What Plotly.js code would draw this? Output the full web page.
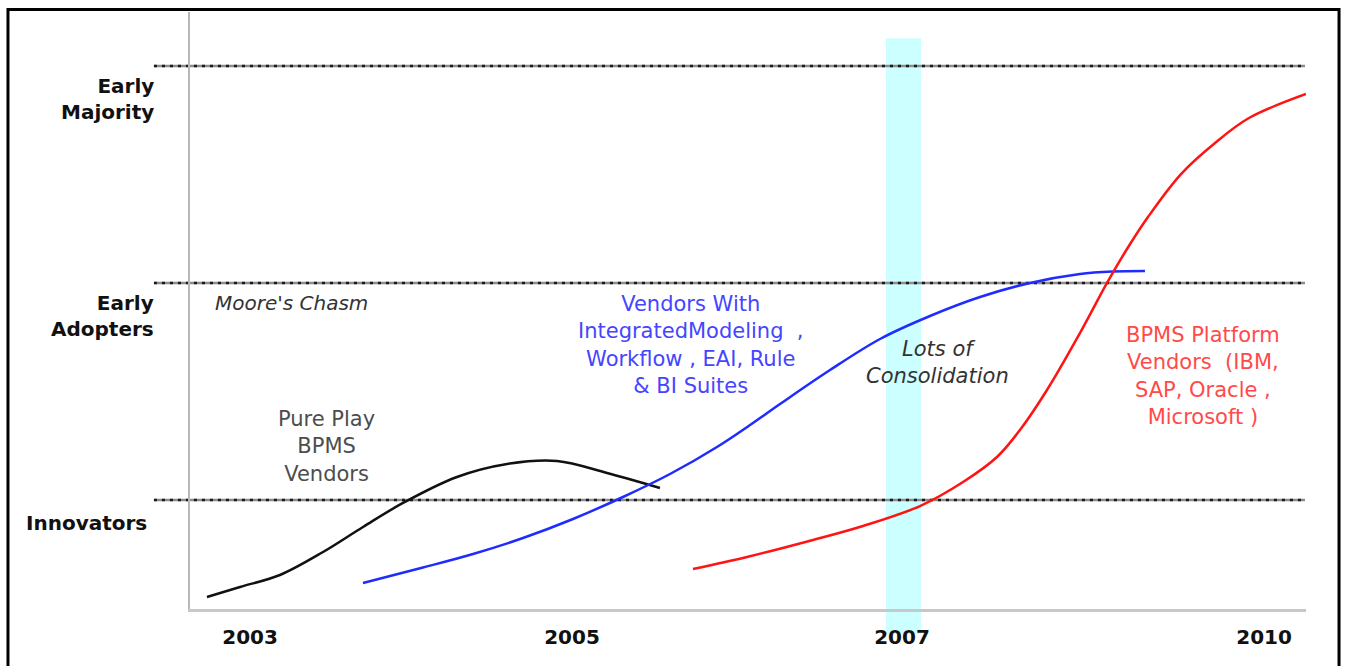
<!DOCTYPE html>
<html>
<head>
<meta charset="utf-8">
<script src="https://cdn.plot.ly/plotly-3.0.1.min.js"></script>
<style>
  html, body { margin: 0; padding: 0; background: #fff; }
  #chart { width: 1345px; height: 666px; }
</style>
</head>
<body>
<div id="chart"></div>
<script>
// ---- Data (abstract time axis 0-100, adoption level 0-100) ----
var pureX = [1.52, 4.48, 8.06, 11.92, 15.50, 19.09, 23.92, 28.41, 32.89, 37.37, 42.11];
var pureY = [2.01, 3.69, 5.70, 9.55, 13.74, 17.76, 22.11, 24.29, 24.79, 22.78, 20.27];

var suiteX = [15.50, 20.88, 25.36, 29.84, 34.32, 38.80, 43.01, 47.22, 50.18, 52.87, 57.35, 61.83, 66.31, 70.79, 75.27, 79.75, 82.71, 85.57];
var suiteY = [4.36, 6.95, 9.21, 11.89, 15.08, 18.76, 22.61, 27.14, 30.82, 34.34, 40.03, 45.23, 49.08, 52.26, 54.61, 56.11, 56.53, 56.62];

var platformX = [45.07, 49.91, 55.82, 60.30, 65.41, 69.27, 72.31, 74.37, 76.79, 79.75, 82.17, 83.96, 85.84, 88.80, 91.85, 94.89, 100.0];
var platformY = [6.70, 8.71, 11.56, 13.90, 17.25, 21.27, 25.46, 29.98, 36.68, 46.23, 54.61, 60.30, 65.66, 72.86, 78.06, 82.24, 86.26];

var tickPositions = [5.38, 34.23, 63.80, 96.24];
var tickLabels = ['2003', '2005', '2007', '2010'];

var stageLevels = [18.26, 54.61, 90.95];
var stageLabelY = [14.41, 49.08, 85.43];
var stageLabels = ['Innovators', 'Early<br>Adopters', 'Early<br>Majority'];

var consolidationBand = [62.37, 65.50];

var noteText = ["Moore's Chasm", 'Pure Play<br>BPMS<br>Vendors',
  'Vendors With<br>IntegratedModeling  ,<br>Workflow , EAI, Rule<br>&amp; BI Suites',
  'Lots of<br>Consolidation',
  'BPMS Platform<br>Vendors  (IBM,<br>SAP, Oracle ,<br>Microsoft )'];
var noteX = [2.06, 12.19, 44.89, 66.94, 90.77];
var noteY = [51.3, 27.2, 44.3, 41.3, 39.1];

var xRange = [0, 100];
var yRange = [0, 100];

function toPaperX(v) { return (v - xRange[0]) / (xRange[1] - xRange[0]); }

// ---- Traces ----
var traces = [
  { x: pureX, y: pureY, mode: 'lines', line: { color: '#111111', width: 2.5, shape: 'spline', smoothing: 1 }, hoverinfo: 'skip' },
  { x: suiteX, y: suiteY, mode: 'lines', line: { color: '#1f2bff', width: 2.5, shape: 'spline', smoothing: 1 }, hoverinfo: 'skip' },
  { x: platformX, y: platformY, mode: 'lines', line: { color: '#ff1414', width: 2.5, shape: 'spline', smoothing: 1 }, hoverinfo: 'skip' }
];

// ---- Shapes ----
var shapes = [];
shapes.push({
  type: 'rect', layer: 'below', xref: 'paper', yref: 'paper',
  x0: toPaperX(consolidationBand[0]), x1: toPaperX(consolidationBand[1]), y0: -0.042, y1: 0.956,
  fillcolor: '#ccffff', line: { width: 0 }
});
stageLevels.forEach(function (lv) {
  shapes.push({ type: 'line', layer: 'below', xref: 'paper', yref: 'y', x0: -0.0323, x1: 0.9991, y0: lv, y1: lv,
    line: { color: '#8c8c8c', width: 2.5 } });
  shapes.push({ type: 'line', layer: 'below', xref: 'paper', yref: 'y', x0: -0.0323, x1: 0.9991, y0: lv, y1: lv,
    line: { color: '#1a1a1a', width: 2.5, dash: '3px,5px' } });
});
// outer frame
shapes.push({ type: 'rect', xref: 'paper', yref: 'paper', x0: -0.1631, x1: 1.0296, y0: -0.15, y1: 1.004,
  line: { color: '#000000', width: 3 }, fillcolor: 'rgba(0,0,0,0)' });

// ---- Annotations ----
var annotations = [];
stageLabels.forEach(function (t, i) {
  annotations.push({ text: t, xref: 'paper', yref: 'y', x: i === 0 ? -0.037 : -0.0305, y: stageLabelY[i],
    xanchor: 'right', yanchor: 'middle', align: 'right', showarrow: false,
    font: { family: 'DejaVu Sans', size: 20, weight: 'bold', color: '#111111' } });
});
var noteStyles = [
  { color: '#333333', style: 'italic', xanchor: 'left', size: 20 },
  { color: '#4d4d4d', style: 'normal', xanchor: 'center', size: 21 },
  { color: '#4545ff', style: 'normal', xanchor: 'center', size: 21 },
  { color: '#333333', style: 'italic', xanchor: 'center', size: 21 },
  { color: '#ff4a4a', style: 'normal', xanchor: 'center', size: 21 }
];
noteText.forEach(function (t, i) {
  var s = noteStyles[i];
  annotations.push({ text: t, x: noteX[i], y: noteY[i], xref: 'x', yref: 'y',
    xanchor: s.xanchor, yanchor: 'middle', align: 'center', showarrow: false,
    font: { family: 'DejaVu Sans', size: s.size, style: s.style, color: s.color } });
});

var layout = {
  width: 1345, height: 666,
  margin: { l: 190, r: 39, t: 12, b: 57 },
  paper_bgcolor: '#ffffff', plot_bgcolor: 'rgba(0,0,0,0)',
  showlegend: false,
  xaxis: {
    range: xRange, showgrid: false, zeroline: false,
    showline: true, linecolor: '#c8c8c8', linewidth: 3,
    tickmode: 'array', tickvals: tickPositions, ticktext: tickLabels,
    ticks: '', ticklabelstandoff: 8,
    tickfont: { family: 'DejaVu Sans', size: 20, weight: 'bold', color: '#111111' }
  },
  yaxis: {
    range: yRange, showgrid: false, zeroline: false,
    showline: true, linecolor: '#b8b8b8', linewidth: 2,
    showticklabels: false, ticks: ''
  },
  shapes: shapes,
  annotations: annotations
};

Plotly.newPlot('chart', traces, layout, { staticPlot: true, displayModeBar: false });
</script>
</body>
</html>
